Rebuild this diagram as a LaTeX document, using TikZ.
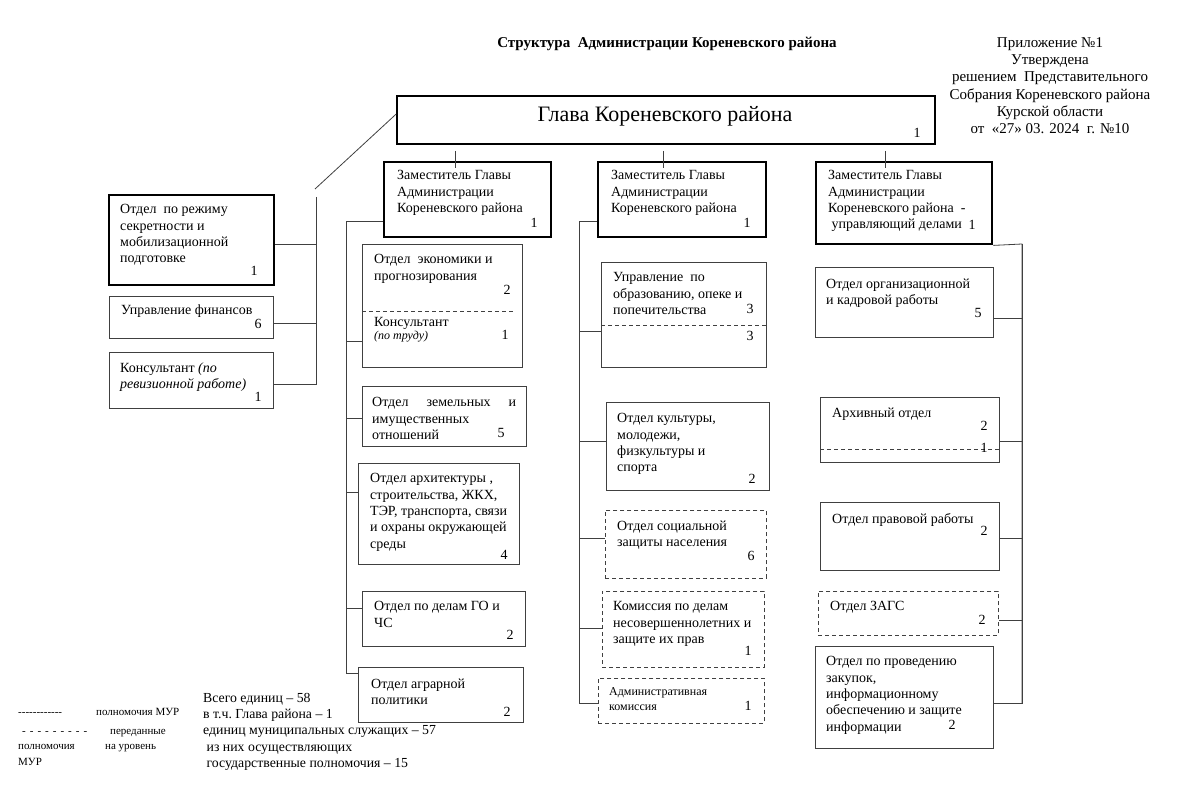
\documentclass[tikz,border=0pt]{standalone}
\usepackage{fontspec}
\setmainfont{Liberation Serif}

\newcommand{\boxfont}{\fontsize{14}{16.3}\selectfont}
\newcommand{\notefont}{\fontsize{13.8}{16.3}\selectfont}
\newcommand{\legendfont}{\fontsize{11}{15.5}\selectfont}
\newcommand{\dashrow}{-{}-{}-{}-{}-{}-{}-{}-{}-{}-{}-{}-}
\newcommand{\gaprow}{-\hspace{4pt}-\hspace{4pt}-\hspace{4pt}-\hspace{4pt}-\hspace{4pt}-\hspace{4pt}-\hspace{4pt}-\hspace{4pt}-}

\tikzset{
  dept/.style={draw=black!75, line width=0.8pt, anchor=north west, inner sep=0pt},
  chief/.style={dept, draw=black, line width=2.4pt},
  passed/.style={dept, dash pattern=on 4pt off 3pt},
  conn/.style={draw=black!75, line width=0.8pt},
  divider/.style={draw=black!75, line width=0.8pt, dash pattern=on 4pt off 3pt},
  txt/.style={anchor=north west, inner sep=0pt, align=left, font=\boxfont, yshift=-1.5pt},
  num/.style={inner sep=0pt, font=\boxfont},
}

\begin{document}
\begin{tikzpicture}[x=1pt,y=-1pt]
\useasboundingbox (0,0) rectangle (1192,805);

% Header
\node[inner sep=0pt, font=\fontsize{15}{17}\selectfont\bfseries] (title) at (667,44)
  {Структура\ \ Администрации Кореневского района};
\node[anchor=north, inner sep=0pt, align=center, font=\fontsize{15}{17.3}\selectfont] (approval) at (1050,37)
  {Приложение №1\\Утверждена\\решением\ \ Представительного\\Собрания Кореневского района\\Курской области\\от\ \ «27» 03. 2024\ \ г. №10};

% Head of the district
\node[chief, minimum width=538, minimum height=48] (glava) at (396,95) {};
\node[inner sep=0pt, font=\fontsize{22}{26}\selectfont] (glava-t) at (665,116) {Глава Кореневского района};
\node[num] (glava-n) at (917,133) {1};

% Deputies
\node[chief, minimum width=167, minimum height=75] (dep1) at (383,161) {};
\node[txt] (dep1-t) at (397,169) {Заместитель Главы\\Администрации\\Кореневского района};
\node[num] (dep1-n) at (534,223) {1};
\node[chief, minimum width=168, minimum height=75] (dep2) at (597,161) {};
\node[txt] (dep2-t) at (611,169) {Заместитель Главы\\Администрации\\Кореневского района};
\node[num] (dep2-n) at (747,223) {1};
\node[chief, minimum width=176, minimum height=82] (dep3) at (815,161) {};
\node[txt] (dep3-t) at (828,169) {Заместитель Главы\\Администрации\\Кореневского района\ \ -\\\ управляющий делами};
\node[num] (dep3-n) at (972,225) {1};

% Ticks above the deputies
\draw[conn] (455,151) -- (455,168);
\draw[conn] (663,151) -- (663,168);
\draw[conn] (885,151) -- (885,168);

% Left group
\node[chief, line width=1.8pt, minimum width=165, minimum height=90] (secret) at (108,194) {};
\node[txt] (secret-t) at (120,203) {Отдел\ \ по режиму\\секретности и\\мобилизационной\\подготовке};
\node[num] (secret-n) at (254,271) {1};
\node[dept, minimum width=164, minimum height=42] (finance) at (109,296) {};
\node[txt] (finance-t) at (121,303) {Управление финансов};
\node[num] (finance-n) at (258,324) {6};
\node[dept, minimum width=164, minimum height=56] (audit) at (109,352) {};
\node[txt] (audit-t) at (120,361) {Консультант \textit{(по}\\\textit{ревизионной работе)}};
\node[num] (audit-n) at (258,397) {1};

\coordinate (bus0top) at (316,197);
\coordinate (bus0bot) at (316,384);
\coordinate (diag) at (315,189);
\draw[conn] (bus0top) -- (bus0bot);
\draw[conn] ([yshift=6pt]glava.west) -- (diag);
\draw[conn] ([yshift=-5pt]secret.east) -| (bus0top);
\draw[conn] ([yshift=-6pt]finance.east) -| (bus0top);
\draw[conn] ([yshift=-4pt]audit.east) -| (bus0top);

% Column 1
\node[dept, minimum width=160, minimum height=123] (econ) at (362,244) {};
\node[txt] (econ-t) at (374,253) {Отдел\ \ экономики и\\прогнозирования};
\node[num] (econ-n) at (507,290) {2};
\draw[divider] (362,311) -- (514,311);
\node[txt] (labour-t) at (374,316) {Консультант};
\node[anchor=west, inner sep=0pt, font=\fontsize{12}{14}\selectfont\itshape] (labour-i) at (374,337) {(по труду)};
\node[num] (labour-n) at (505,335) {1};

\node[dept, minimum width=164, minimum height=60] (land) at (362,386) {};
\node[txt] (land-t) at (372,396) {\makebox[144pt][s]{Отдел земельных и}\\имущественных\\отношений};
\node[num] (land-n) at (501,433) {5};

\node[dept, minimum width=161, minimum height=101] (build) at (358,463) {};
\node[txt] (build-t) at (370,472) {Отдел архитектуры ,\\строительства, ЖКХ,\\ТЭР, транспорта, связи\\и охраны окружающей\\среды};
\node[num] (build-n) at (504,555) {4};

\node[dept, minimum width=163, minimum height=55] (civil) at (362,591) {};
\node[txt] (civil-t) at (374,600) {Отдел по делам ГО и\\ЧС};
\node[num] (civil-n) at (510,635) {2};

\node[dept, minimum width=165, minimum height=55] (agro) at (358,667) {};
\node[txt] (agro-t) at (371,677) {Отдел аграрной\\политики};
\node[num] (agro-n) at (507,712) {2};

\coordinate (bus1top) at (346,221);
\coordinate (bus1bot) at (346,673);
\draw[conn] (dep1.west |- bus1top) -- (bus1top) -- (bus1bot);
\draw[conn] ([yshift=-35.5pt]econ.west) -| (bus1top);
\draw[conn] ([yshift=-2pt]land.west) -| (bus1top);
\draw[conn] ([yshift=21.5pt]build.west) -| (bus1top);
\draw[conn] ([yshift=10.5pt]civil.west) -| (bus1top);
\draw[conn] ([yshift=21.5pt]agro.west) -| (bus1top);

% Column 2
\node[dept, minimum width=165, minimum height=105] (edu) at (601,262) {};
\node[txt] (edu-t) at (613,271) {Управление\ \ по\\образованию,\ опеке и\\попечительства};
\node[num] (edu-n) at (750,309) {3};
\draw[divider] (601,325) -- (766,325);
\node[num] (edu-m) at (750,336) {3};

\node[dept, minimum width=163, minimum height=88] (culture) at (606,402) {};
\node[txt] (culture-t) at (617,412) {Отдел культуры,\\молодежи,\\физкультуры и\\спорта};
\node[num] (culture-n) at (752,479) {2};

\node[passed, minimum width=161, minimum height=68] (social) at (605,510) {};
\node[txt] (social-t) at (617,519) {Отдел социальной\\защиты населения};
\node[num] (social-n) at (751,556) {6};

\node[passed, minimum width=162, minimum height=76] (minors) at (602,591) {};
\node[txt] (minors-t) at (613,600) {Комиссия по делам\\несовершеннолетних и\\защите их прав};
\node[num] (minors-n) at (748,651) {1};

\node[passed, minimum width=166, minimum height=45] (admin) at (598,678) {};
\node[txt, font=\fontsize{12}{15}\selectfont] (admin-t) at (609,686) {Административная\\комиссия};
\node[num] (admin-n) at (748,706) {1};

\coordinate (bus2top) at (579,221);
\coordinate (bus2bot) at (579,703);
\draw[conn] (dep2.west |- bus2top) -- (bus2top) -- (bus2bot);
\draw[conn] ([yshift=-16.5pt]edu.west) -| (bus2top);
\draw[conn] ([yshift=5pt]culture.west) -| (bus2top);
\draw[conn] ([yshift=6pt]social.west) -| (bus2top);
\draw[conn] ([yshift=1pt]minors.west) -| (bus2top);
\draw[conn] ([yshift=-2.5pt]admin.west) -| (bus2top);

% Column 3
\node[dept, minimum width=178, minimum height=70] (staff) at (815,267) {};
\node[txt] (staff-t) at (826,277) {Отдел организационной\\и кадровой работы};
\node[num] (staff-n) at (978,313) {5};

\node[dept, minimum width=179, minimum height=65] (archive) at (820,397) {};
\node[txt] (archive-t) at (832,406) {Архивный отдел};
\node[num] (archive-n) at (984,426) {2};
\draw[divider] (820,449) -- (999,449);
\node[num] (archive-m) at (984,448) {1};

\node[dept, minimum width=179, minimum height=68] (legal) at (820,502) {};
\node[txt] (legal-t) at (832,512) {Отдел правовой работы};
\node[num] (legal-n) at (984,531) {2};

\node[passed, minimum width=180, minimum height=44] (registry) at (818,591) {};
\node[txt] (registry-t) at (830,600) {Отдел ЗАГС};
\node[num] (registry-n) at (982,620) {2};

\node[dept, minimum width=178, minimum height=102] (purchase) at (815,646) {};
\node[txt] (purchase-t) at (826,655) {Отдел по проведению\\закупок,\\информационному\\обеспечению и защите\\информации};
\node[num] (purchase-n) at (952,725) {2};

\coordinate (bus3top) at (1022,244);
\coordinate (bus3bot) at (1022,703);
\draw[conn] (dep3.south east) -- (bus3top) -- (bus3bot);
\draw[conn] ([yshift=-16pt]staff.east) -| (bus3top);
\draw[conn] ([yshift=-11.5pt]archive.east) -| (bus3top);
\draw[conn] ([yshift=-2pt]legal.east) -| (bus3top);
\draw[conn] ([yshift=-7pt]registry.east) -| (bus3top);
\draw[conn] ([yshift=-6pt]purchase.east) -| (bus3top);

% Legend and totals
\node[anchor=west, inner sep=0pt, font=\legendfont] (legend1) at (18,712)
  {\makebox[78pt][l]{\dashrow}полномочия МУР};
\node[anchor=north west, inner sep=0pt, align=left, font=\legendfont] (legend2) at (18,729)
  {\makebox[92pt][l]{\hspace{4pt}\gaprow}переданные\\\makebox[87pt][l]{полномочия}на уровень\\МУР};
\node[anchor=north west, inner sep=0pt, align=left, font=\notefont] (totals) at (203,693)
  {Всего единиц – 58\\в т.ч.\ Глава района – 1\\единиц муниципальных служащих – 57\\\ из них осуществляющих\\\ государственные полномочия – 15};
\end{tikzpicture}
\end{document}
